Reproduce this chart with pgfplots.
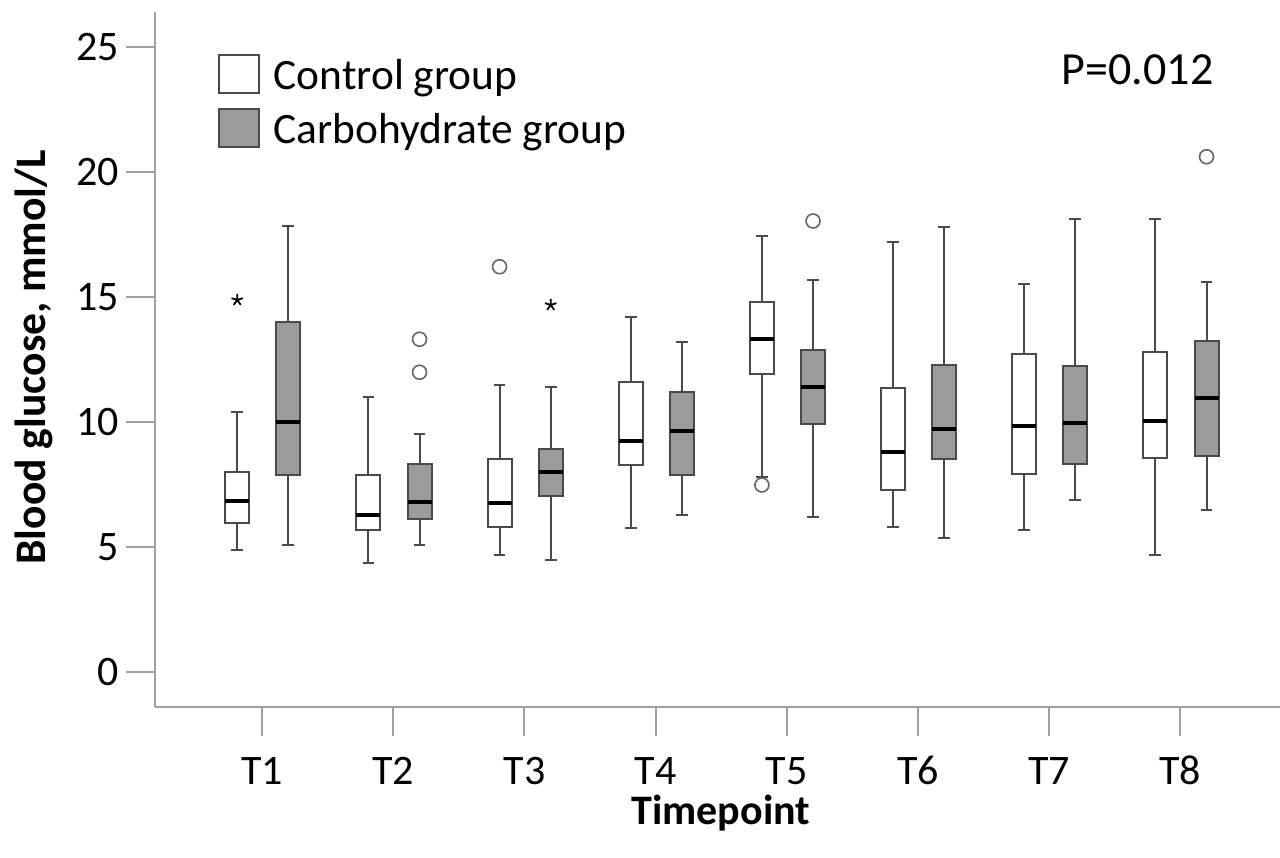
\documentclass[border=0pt]{standalone}
\usepackage{fontspec}
\setmainfont{Carlito}
\usepackage{pgfplots}
\pgfplotsset{compat=1.18}
\usepgfplotslibrary{statistics}

\definecolor{axc}{HTML}{A0A0A0}
\definecolor{boxc}{HTML}{4A4A4A}
\definecolor{carbfill}{HTML}{9B9B9B}

\pgfplotsset{
  ctrl/.style={fill=white, draw=boxc, line width=1pt, mark=o, mark size=3.5pt,
    mark options={draw=boxc!85, fill=none, line width=0.8pt}},
  carb/.style={fill=carbfill, draw=boxc, line width=1pt, mark=o, mark size=3.5pt,
    mark options={draw=boxc!85, fill=none, line width=0.8pt}},
  star/.style={mark=star, mark size=3pt, mark options={draw=black, line width=0.9pt}},
}

\begin{document}
\begin{tikzpicture}[font=\fontsize{21}{25}\selectfont]
\begin{axis}[
  scale only axis,
  width=562.5pt, height=347.5pt,
  xmin=0.183, xmax=8.76,
  ymin=-1.4, ymax=26.4,
  axis x line=bottom, axis y line=left,
  axis line style={draw=axc, line width=1pt, -},
  tick style={draw=axc, line width=1pt},
  tick align=outside,
  major tick length=14.5pt,
  xtick={1,2,3,4,5,6,7,8},
  xticklabels={T1,T2,T3,T4,T5,T6,T7,T8},
  xticklabel style={yshift=-6.5pt, text height=14pt, text depth=0pt},
  ytick={0,5,10,15,20,25},
  /pgf/number format/assume math mode=true,
  xlabel={\bfseries Timepoint},
  ylabel={\bfseries Blood glucose, mmol/L},
  xlabel style={at={(axis description cs:0.503,-0.153)}, anchor=center},
  ylabel style={at={(axis description cs:-0.108,0.503)}, anchor=center,
    font=\fontsize{21.8}{25}\selectfont},
  boxplot/draw direction=y,
  boxplot/box extend=0.183,
  boxplot/whisker extend=0.09,
  boxplot/every median/.style={draw=black, line width=2pt},
  legend style={at={(rel axis cs:0.056,0.94)}, anchor=north west, draw=none,
    fill=none, inner sep=0pt, row sep=7pt, font=\fontsize{21.7}{25}\selectfont,
    nodes={inner sep=0pt, text depth=0pt}},
  legend cell align=left,
  clip=false,
]
\addlegendimage{legend image code/.code={\draw[draw=boxc, fill=white, line width=1pt] (0pt,-9.5pt) rectangle (20pt,9.5pt); \path (27pt,0pt);}}
\addlegendentry{Control group}
\addlegendimage{legend image code/.code={\draw[draw=boxc, fill=carbfill, line width=1pt] (0pt,-9.5pt) rectangle (20pt,9.5pt); \path (27pt,0pt);}}
\addlegendentry{Carbohydrate group}

% T1
\addplot[ctrl, star, forget plot, boxplot prepared={draw position=0.81,
  lower whisker=4.88, lower quartile=5.97, median=6.85, upper quartile=8.01, upper whisker=10.39}]
  table[row sep=\\, y index=0] {v\\ 14.88\\};
\addplot[carb, forget plot, boxplot prepared={draw position=1.2,
  lower whisker=5.08, lower quartile=7.88, median=9.99, upper quartile=14.01, upper whisker=17.84}]
  coordinates {};
% T2
\addplot[ctrl, forget plot, boxplot prepared={draw position=1.81,
  lower whisker=4.37, lower quartile=5.68, median=6.28, upper quartile=7.87, upper whisker=11.0}]
  coordinates {};
\addplot[carb, forget plot, boxplot prepared={draw position=2.2,
  lower whisker=5.08, lower quartile=6.11, median=6.79, upper quartile=8.32, upper whisker=9.51}]
  table[row sep=\\, y index=0] {v\\ 13.31\\ 11.99\\};
% T3
\addplot[ctrl, forget plot, boxplot prepared={draw position=2.81,
  lower whisker=4.69, lower quartile=5.79, median=6.75, upper quartile=8.53, upper whisker=11.48}]
  table[row sep=\\, y index=0] {v\\ 16.21\\};
\addplot[carb, star, forget plot, boxplot prepared={draw position=3.2,
  lower whisker=4.47, lower quartile=7.03, median=7.99, upper quartile=8.92, upper whisker=11.4}]
  table[row sep=\\, y index=0] {v\\ 14.68\\};
% T4
\addplot[ctrl, forget plot, boxplot prepared={draw position=3.81,
  lower whisker=5.77, lower quartile=8.28, median=9.24, upper quartile=11.6, upper whisker=14.19}]
  coordinates {};
\addplot[carb, forget plot, boxplot prepared={draw position=4.2,
  lower whisker=6.27, lower quartile=7.88, median=9.64, upper quartile=11.19, upper whisker=13.19}]
  coordinates {};
% T5
\addplot[ctrl, forget plot, boxplot prepared={draw position=4.81,
  lower whisker=7.78, lower quartile=11.93, median=13.33, upper quartile=14.8, upper whisker=17.44}]
  table[row sep=\\, y index=0] {v\\ 7.48\\};
\addplot[carb, forget plot, boxplot prepared={draw position=5.2,
  lower whisker=6.19, lower quartile=9.91, median=11.4, upper quartile=12.89, upper whisker=15.69}]
  table[row sep=\\, y index=0] {v\\ 18.04\\};
% T6
\addplot[ctrl, forget plot, boxplot prepared={draw position=5.81,
  lower whisker=5.82, lower quartile=7.28, median=8.8, upper quartile=11.36, upper whisker=17.21}]
  coordinates {};
\addplot[carb, forget plot, boxplot prepared={draw position=6.2,
  lower whisker=5.37, lower quartile=8.53, median=9.71, upper quartile=12.28, upper whisker=17.81}]
  coordinates {};
% T7
\addplot[ctrl, forget plot, boxplot prepared={draw position=6.81,
  lower whisker=5.68, lower quartile=7.93, median=9.85, upper quartile=12.71, upper whisker=15.52}]
  coordinates {};
\addplot[carb, forget plot, boxplot prepared={draw position=7.2,
  lower whisker=6.88, lower quartile=8.31, median=9.95, upper quartile=12.24, upper whisker=18.13}]
  coordinates {};
% T8
\addplot[ctrl, forget plot, boxplot prepared={draw position=7.81,
  lower whisker=4.68, lower quartile=8.57, median=10.04, upper quartile=12.81, upper whisker=18.13}]
  coordinates {};
\addplot[carb, forget plot, boxplot prepared={draw position=8.2,
  lower whisker=6.48, lower quartile=8.65, median=10.95, upper quartile=13.24, upper whisker=15.6}]
  table[row sep=\\, y index=0] {v\\ 20.61\\};

\node[anchor=center, font=\fontsize{23}{27}\selectfont] at (axis cs:7.674,24.08) {P=0.012};
\end{axis}
\pgfresetboundingbox
\path ([shift={(-77.5pt,-75pt)}]current axis.south west) rectangle ([shift={(0pt,6pt)}]current axis.north east);
\end{tikzpicture}
\end{document}
